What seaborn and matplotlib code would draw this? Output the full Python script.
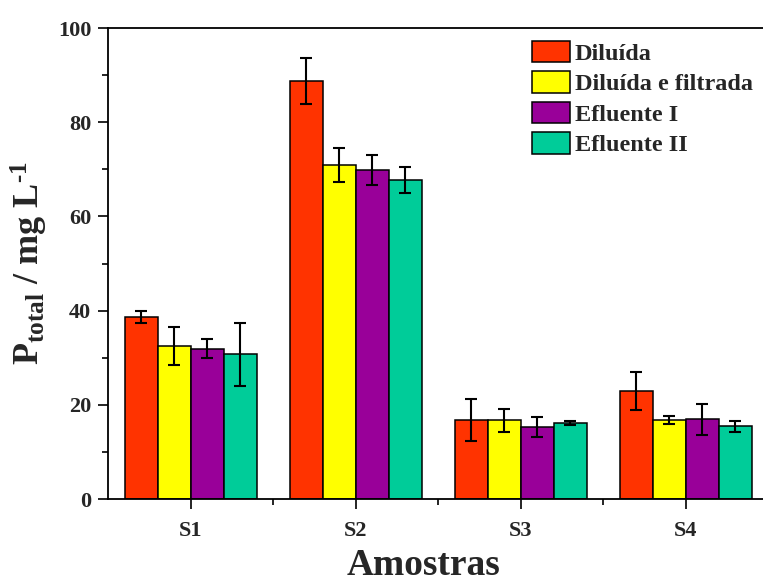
import matplotlib
matplotlib.use("Agg")
import matplotlib.pyplot as plt
import seaborn as sns
import pandas as pd
import numpy as np
from matplotlib.ticker import MultipleLocator, FixedLocator

samples = ["S1", "S2", "S3", "S4"]
series = ["Diluída", "Diluída e filtrada", "Efluente I", "Efluente II"]
diluida = [38.6, 88.7, 16.8, 22.9]
diluida_filtrada = [32.5, 71.0, 16.7, 16.8]
efluente1 = [31.9, 69.9, 15.3, 16.9]
efluente2 = [30.7, 67.7, 16.1, 15.4]
err_diluida = [1.3, 4.9, 4.4, 4.0]
err_diluida_filtrada = [4.1, 3.6, 2.4, 0.8]
err_efluente1 = [2.0, 3.2, 2.1, 3.2]
err_efluente2 = [6.6, 2.8, 0.4, 1.25]
colors = ["#FF3300", "#FFFF00", "#990099", "#00CC99"]

vals = [diluida, diluida_filtrada, efluente1, efluente2]
errs = [err_diluida, err_diluida_filtrada, err_efluente1, err_efluente2]
rows = []
for s, v, e in zip(series, vals, errs):
    for smp, vi, ei in zip(samples, v, e):
        rows.append({"Amostra": smp, "Serie": s, "valor": vi, "erro": ei})
df = pd.DataFrame(rows)

sns.set_theme(style="white")
plt.rcParams["font.family"] = ["Liberation Serif", "DejaVu Serif"]
plt.rcParams["font.weight"] = "bold"
plt.rcParams["axes.labelweight"] = "bold"
plt.rcParams["mathtext.fontset"] = "custom"
plt.rcParams["mathtext.rm"] = "Liberation Serif:bold"
plt.rcParams["mathtext.bf"] = "Liberation Serif:bold"
plt.rcParams["mathtext.it"] = "Liberation Serif:bold"

fig = plt.figure(figsize=(7.63, 5.84), dpi=100)
ax = fig.add_axes([0.1415, 0.1455, 0.8585, 0.8065])

sns.barplot(data=df, x="Amostra", y="valor", hue="Serie", order=samples,
            hue_order=series, palette=colors, errorbar=None, width=0.8,
            edgecolor="black", linewidth=1.1, saturation=1, ax=ax)

# error bars at library-computed bar positions
for i, s in enumerate(series):
    cont = ax.containers[i]
    xs = [p.get_x() + p.get_width() / 2 for p in cont.patches]
    hs = [p.get_height() for p in cont.patches]
    ax.errorbar(xs, hs, yerr=errs[i], fmt="none", ecolor="black",
                elinewidth=1.5, capsize=4.5, capthick=1.5, zorder=5)

ax.set_ylim(0, 100)
ax.set_xlim(-0.503, 3.467)
ax.yaxis.set_major_locator(MultipleLocator(20))
ax.yaxis.set_minor_locator(MultipleLocator(10))
ax.xaxis.set_minor_locator(FixedLocator([0.5, 1.5, 2.5]))
ax.tick_params(axis="both", which="major", direction="out", length=7, width=1.2,
               labelsize=16, color="black", bottom=True, left=True)
ax.tick_params(axis="both", which="minor", direction="out", length=4, width=1.2,
               color="black", bottom=True, left=True)
for lab in ax.get_xticklabels() + ax.get_yticklabels():
    lab.set_fontweight("bold")
ax.tick_params(axis="x", pad=9)
ax.tick_params(axis="y", pad=5)

for side in ["left", "bottom", "top"]:
    ax.spines[side].set_color("black")
    ax.spines[side].set_linewidth(1.3)
ax.spines["right"].set_visible(False)

ax.set_xlabel("Amostras", fontsize=27, fontweight="bold")
ax.xaxis.set_label_coords(0.481, -0.105)
ax.set_ylabel(r"$\mathbf{P}_{\mathbf{total}}$ / mg L$^{\text{-1}}$", fontsize=26,
              fontweight="bold")
ax.yaxis.set_label_coords(-0.088, 0.5)

leg = ax.legend(loc="upper left", bbox_to_anchor=(0.633, 0.994), frameon=False,
                fontsize=17.5, handlelength=1.55, handleheight=1.0,
                handletextpad=0.2, labelspacing=0.26, borderaxespad=0)
for t in leg.get_texts():
    t.set_fontweight("bold")

fig.savefig("out.png", dpi=100)
